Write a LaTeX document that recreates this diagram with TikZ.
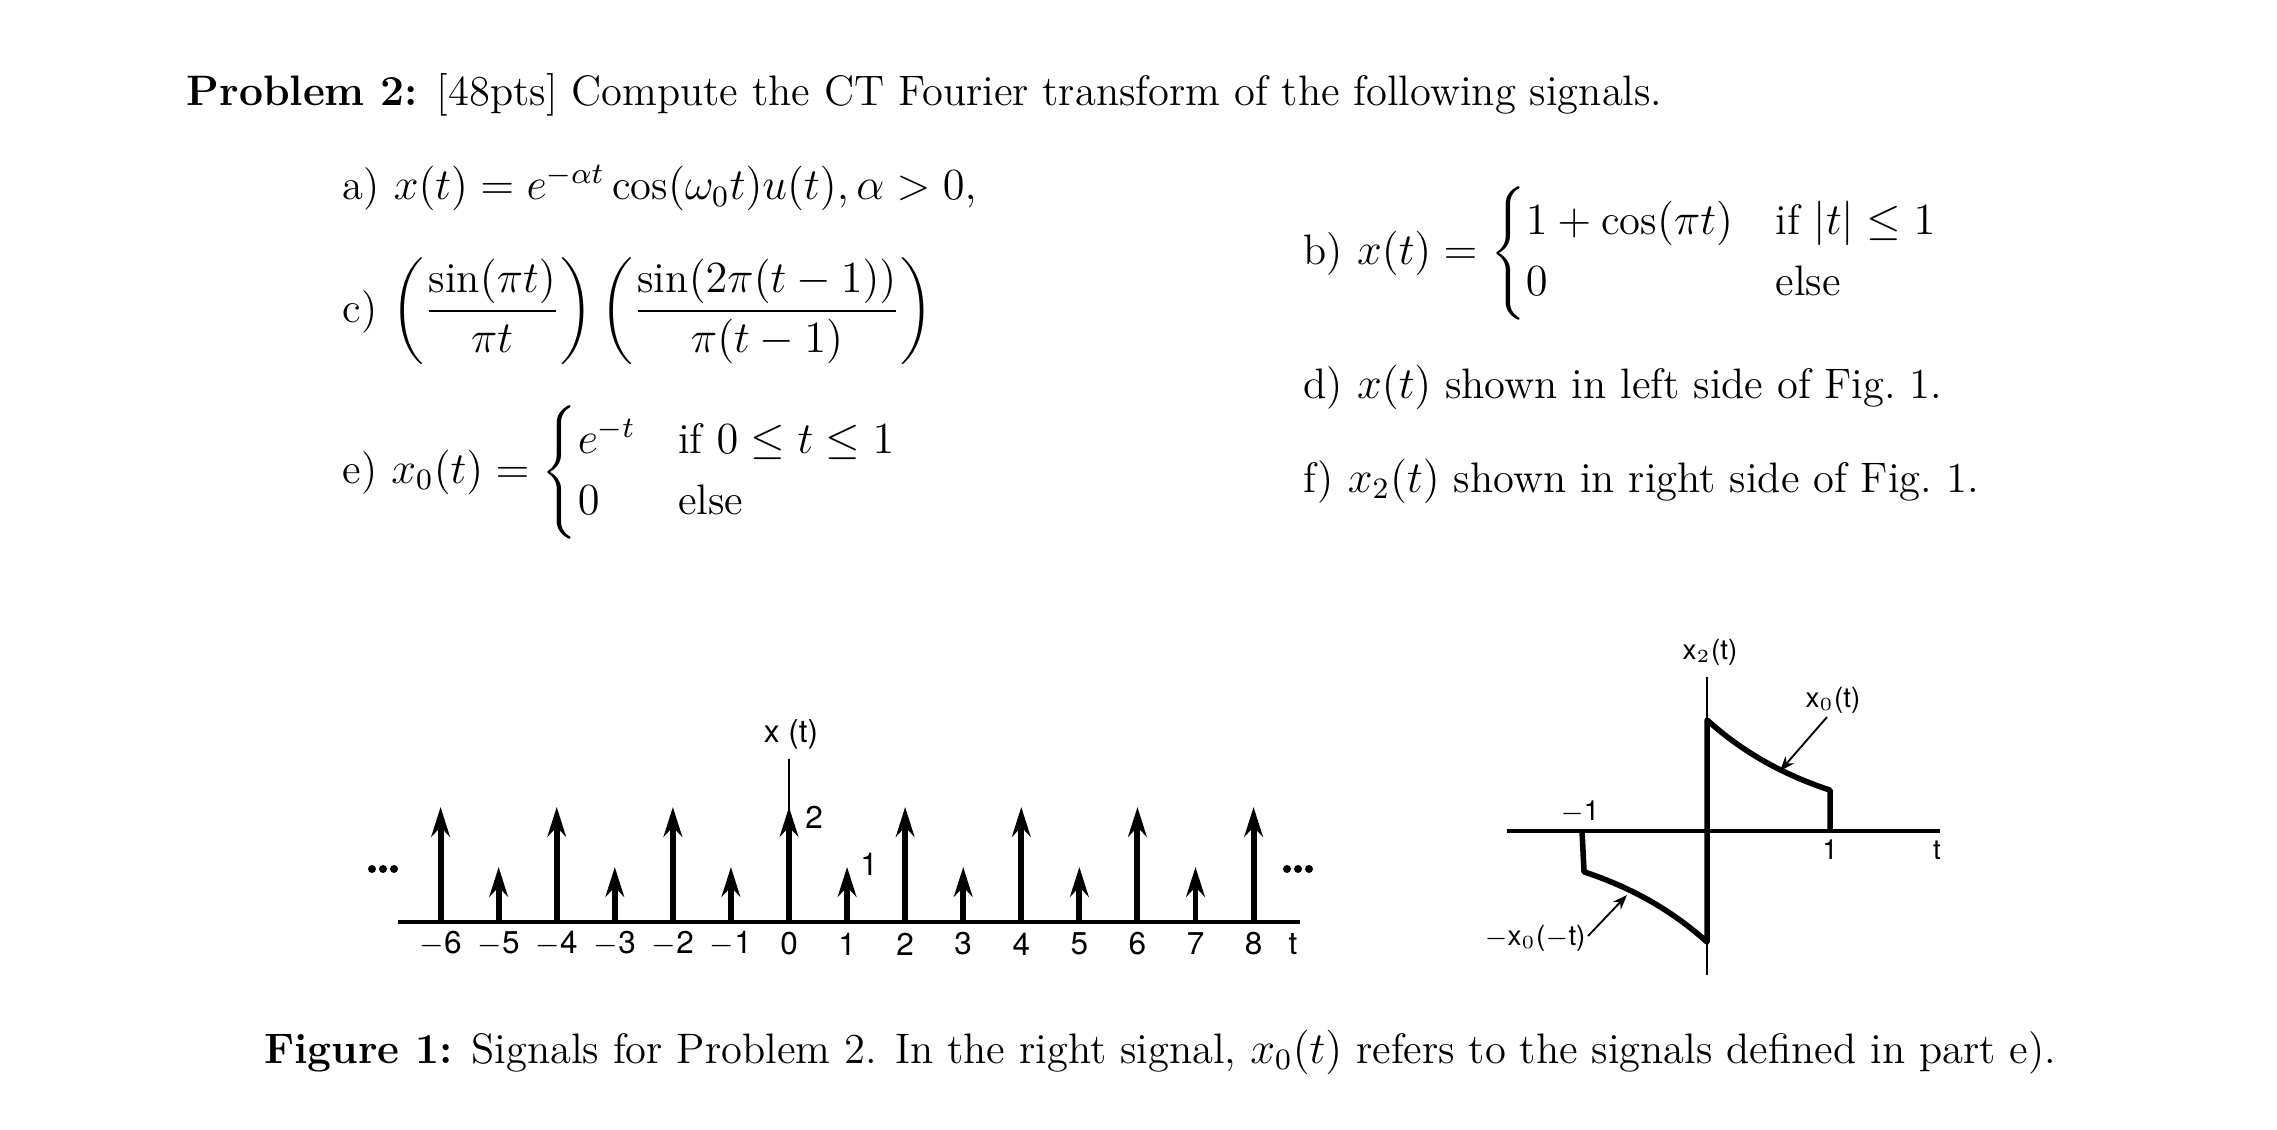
\documentclass[tikz,border=0pt]{standalone}
\usepackage{amsmath}
\usepackage{fontspec}
\newfontfamily\plotfont{TeX Gyre Heros}
\usetikzlibrary{arrows.meta}
\begin{document}
\begin{tikzpicture}[x=0.2698pt,y=-0.2698pt,
  txt/.style={anchor=west,inner sep=0pt,font=\fontsize{11.5}{13.8}\selectfont},
  lbl/.style={inner sep=0pt,font=\plotfont\fontsize{7.5}{8}\selectfont},
  lbl2/.style={inner sep=0pt,font=\plotfont\fontsize{8.5}{9}\selectfont},
  imp/.style={line width=1.6pt,-{Stealth[length=8pt,width=5pt]}},
  sig/.style={line width=1.5pt,line join=round},
  ptr/.style={line width=0.5pt,-{Stealth[length=4pt,width=3pt]}}]
\useasboundingbox (0,0) rectangle (2277,1130);
% text
\node[txt] (p) at (186,95) {\textbf{Problem 2:} [48pts] Compute the CT Fourier transform of the following signals.};
\node[txt] (a) at (342,188) {a) $x(t)=e^{-\alpha t}\cos(\omega_0 t)u(t), \alpha>0,$};
\node[txt] (c) at (342,311) {c) $\displaystyle\left(\frac{\sin(\pi t)}{\pi t}\right)\left(\frac{\sin(2\pi(t-1))}{\pi(t-1)}\right)$};
\node[txt] (e) at (342,472) {e) $x_0(t)=\begin{cases}e^{-t} & \text{if } 0\le t\le 1\\ 0 & \text{else}\end{cases}$};
\node[txt] (b) at (1303,253) {b) $x(t)=\begin{cases}1+\cos(\pi t) & \text{if } |t|\le 1\\ 0 & \text{else}\end{cases}$};
\node[txt] (d) at (1303,387) {d) $x(t)$ shown in left side of Fig.~1.};
\node[txt] (f) at (1303,481) {f) $x_2(t)$ shown in right side of Fig.~1.};
\node[txt,anchor=center] (cap) at (1160,1052) {\textbf{Figure 1:} Signals for Problem 2. In the right signal, $x_0(t)$ refers to the signals defined in part e).};
% left plot
\draw[line width=0.9pt] (398,922) -- (1300,922);
\draw[line width=0.6pt] (789,759) -- (789,922);
\foreach \k in {-6,...,8}{
  \pgfmathsetmacro\xx{789+58.07*\k}
  \pgfmathparse{int(mod(\k+100,2))}
  \ifnum\pgfmathresult=0
    \draw[imp] (\xx,922) -- (\xx,807);
  \else
    \draw[imp] (\xx,922) -- (\xx,867);
  \fi
  \node[lbl2] at (\xx,944) {\ifnum\k<0 $-$\the\numexpr-\k\relax\else\k\fi};
}
\node[lbl2] (xt) at (791,734) {x (t)};
\node[lbl2] (two) at (814,817) {2};
\node[lbl2] (one) at (869,864) {1};
\node[lbl2] (tl) at (1293,944) {t};
\foreach \d in {-11,0,11}{
  \fill (383+\d,869) circle (4);
  \fill (1298+\d,869) circle (4);
}
% right plot
\draw[line width=0.9pt] (1507,831) -- (1940,831);
\draw[line width=0.6pt] (1707,677) -- (1707,975);
\draw[sig] (1830,831) -- plot[domain=1:0,samples=40] ({1707+123*\x},{831-111*exp(-\x)}) -- (1707,831)
  -- plot[domain=0:-1,samples=40] ({1707+123*\x},{831+111*exp(\x)}) -- (1582,831);
\node[lbl] (x2) at (1710,652) {x$_2$(t)};
\node[lbl] (x0) at (1833,700) {x$_0$(t)};
\coordinate (x0p) at (1780,771);
\draw[ptr] (1827,717) -- (x0p);
\node[lbl] (m1) at (1580,812) {$-$1};
\node[lbl] (p1) at (1830,850) {1};
\node[lbl] (tr) at (1937,850) {t};
\node[lbl] (mx0) at (1535,938) {$-$x$_0$($-$t)};
\coordinate (mx0p) at (1627,895);
\draw[ptr] (1588,936) -- (mx0p);
\end{tikzpicture}
\end{document}
